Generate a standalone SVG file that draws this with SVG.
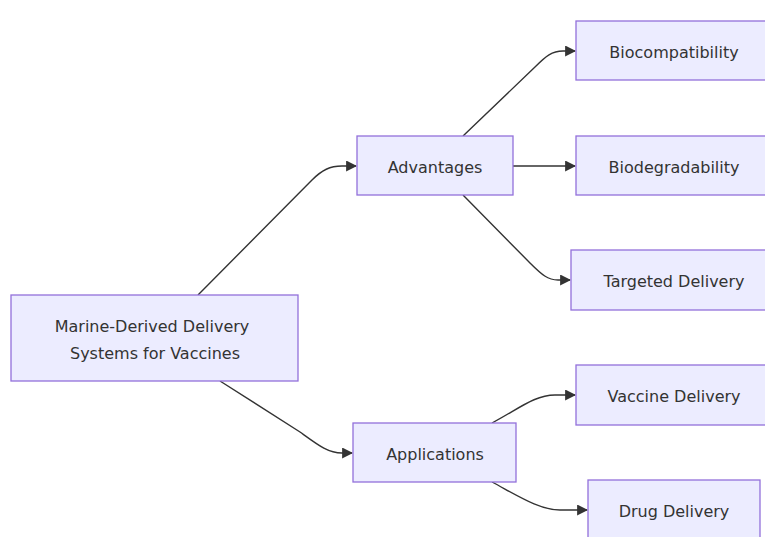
<svg xmlns="http://www.w3.org/2000/svg" width="765" height="537" viewBox="0 0 765 537">
  <style>
    .node rect { fill: #ECECFF; stroke: #9370DB; stroke-width: 1.3; }
    .node text { font-family: "DejaVu Sans", "Liberation Sans", sans-serif; font-size: 16px; fill: #333333; text-anchor: middle; dominant-baseline: central; }
    .edges path { fill: none; stroke: #333333; stroke-width: 1.4; }
  </style>
  <defs>
    <marker id="arrow" viewBox="0 0 10 10" refX="9" refY="5" markerUnits="userSpaceOnUse" markerWidth="11" markerHeight="11" orient="auto">
      <path d="M0,0 L10,5 L0,10 z" fill="#333333"/>
    </marker>
  </defs>
  <rect width="765" height="537" fill="#ffffff"/>

  <g class="edges">
    <path d="M198,295 L312,180 C322,170 330,166 342,166 L356,166" marker-end="url(#arrow)"/>
    <path d="M220,381 L300,432 C318,445 328,453 342,453 L352,453" marker-end="url(#arrow)"/>
    <path d="M463,136 L535,67 C546,56 552,51 563,51 L575,51" marker-end="url(#arrow)"/>
    <path d="M513,166 L575,166" marker-end="url(#arrow)"/>
    <path d="M463,195 L530,263 C542,275 548,280 558,280 L570,280" marker-end="url(#arrow)"/>
    <path d="M492,423 C520,408 535,395 555,395 L575,395" marker-end="url(#arrow)"/>
    <path d="M492,482 C520,497 540,510 560,510 L587,510" marker-end="url(#arrow)"/>
  </g>

  <g id="root" class="node">
    <rect x="11" y="295" width="287" height="86"/>
    <text x="152" y="326">Marine-Derived Delivery</text>
    <text x="155" y="353">Systems for Vaccines</text>
  </g>
  <g id="advantages" class="node">
    <rect x="357" y="136" width="156" height="59"/>
    <text x="435" y="167">Advantages</text>
  </g>
  <g id="applications" class="node">
    <rect x="353" y="423" width="163" height="59"/>
    <text x="435" y="454">Applications</text>
  </g>
  <g id="biocompatibility" class="node">
    <rect x="576" y="21" width="196" height="59"/>
    <text x="674" y="52">Biocompatibility</text>
  </g>
  <g id="biodegradability" class="node">
    <rect x="576" y="136" width="196" height="59"/>
    <text x="674" y="167">Biodegradability</text>
  </g>
  <g id="targeted" class="node">
    <rect x="571" y="250" width="206" height="60"/>
    <text x="674" y="281">Targeted Delivery</text>
  </g>
  <g id="vaccine" class="node">
    <rect x="576" y="365" width="196" height="60"/>
    <text x="674" y="396">Vaccine Delivery</text>
  </g>
  <g id="drug" class="node">
    <rect x="588" y="480" width="172" height="60"/>
    <text x="674" y="511">Drug Delivery</text>
  </g>
</svg>
